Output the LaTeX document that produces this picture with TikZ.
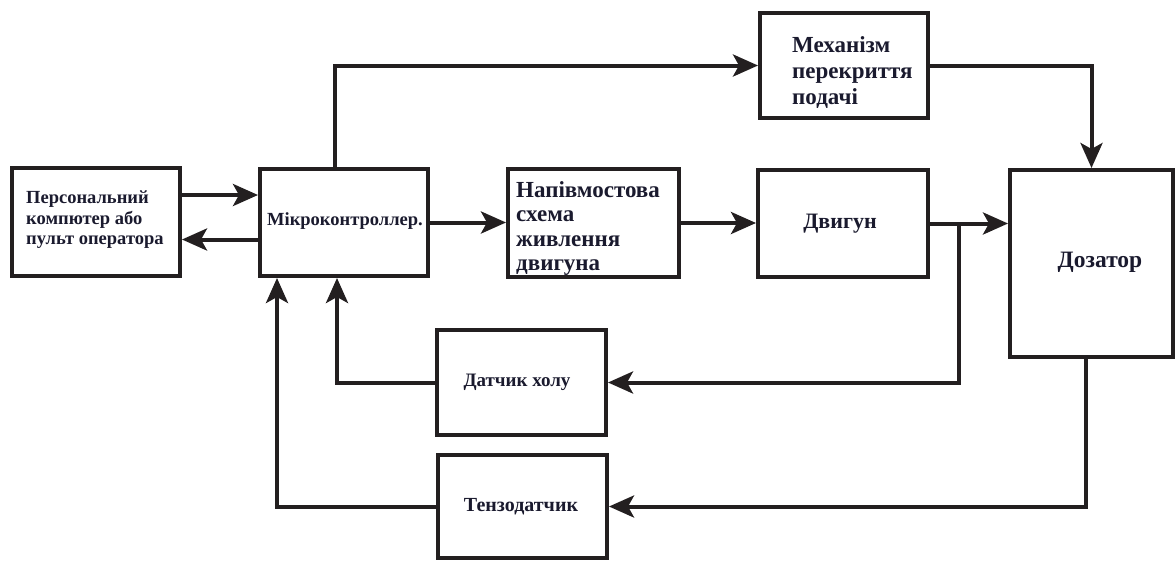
\documentclass[tikz,border=0pt]{standalone}
\usepackage{fontspec}
\setmainfont{Liberation Serif}
\usetikzlibrary{arrows.meta,calc}
\definecolor{ln}{HTML}{231F20}
\definecolor{tx}{HTML}{1A1A2E}
\begin{document}
\begin{tikzpicture}[x=1pt,y=-1pt,
  blk/.style={draw=ln,line width=4pt,fill=white,inner sep=0pt,font=\bfseries,text=tx},
  lbl/.style={inner sep=0pt,font=\bfseries,text=tx,align=left},
  arr/.style={draw=ln,line width=4pt,-{Stealth[length=25pt,width=22pt,inset=6pt]}},
  wire/.style={draw=ln,line width=4pt}]
\useasboundingbox (0,0) rectangle (1175,560);
% boxes
\node[blk,minimum width=168pt,minimum height=108pt] (pc) at (96,222) {};
\node[blk,minimum width=168pt,minimum height=107pt] (mcu) at (344,222.5) {};
\node[blk,minimum width=171pt,minimum height=108pt] (hb) at (593.5,223) {};
\node[blk,minimum width=170pt,minimum height=107pt] (dv) at (843,223.5) {};
\node[blk,minimum width=168pt,minimum height=105pt] (mech) at (844,65.5) {};
\node[blk,minimum width=163pt,minimum height=187pt] (doz) at (1091.5,263.5) {};
\node[blk,minimum width=169pt,minimum height=105pt] (hall) at (521.5,382.5) {};
\node[blk,minimum width=169pt,minimum height=103pt] (tenzo) at (522.5,506.5) {};
% labels
\node[lbl,font=\bfseries\fontsize{18.5}{20.5}\selectfont,anchor=west] (pct) at (26,220) {Персональний\\компютер або\\пульт оператора};
\node[lbl,font=\bfseries\fontsize{18.5}{20}\selectfont] (mcut) at (345,221) {Мікроконтроллер.};
\node[lbl,font=\bfseries\fontsize{23}{24.5}\selectfont,anchor=west] (hbt) at (516,228.5) {Напівмостова\\схема\\живлення\\двигуна};
\node[lbl,font=\bfseries\fontsize{22}{24}\selectfont] (dvt) at (840,224) {Двигун};
\node[lbl,font=\bfseries\fontsize{23}{26}\selectfont,anchor=west] (mecht) at (792,73) {Механізм\\перекриття\\подачі};
\node[lbl,font=\bfseries\fontsize{23.5}{26}\selectfont] (dozt) at (1100,262) {Дозатор};
\node[lbl,font=\bfseries\fontsize{19}{22}\selectfont] (hallt) at (517,382) {Датчик холу};
\node[lbl,font=\bfseries\fontsize{20}{22}\selectfont] (tenzot) at (521,507) {Тензодатчик};
% connectors
\coordinate (br) at (959,222);
\draw[arr] ([yshift=27pt]pc.east) -- ([yshift=27pt]pc.east -| mcu.west);
\draw[arr] ([yshift=-17pt]mcu.west) -- ([yshift=-17pt]mcu.west -| pc.east);
\draw[arr] (mcu.east) -- (mcu.east -| hb.west);
\draw[arr] (hb.east) -- (hb.east -| dv.west);
\draw[arr] (dv.east) -- (dv.east -| doz.west);
\draw[arr] (br) |- (hall.east);
\draw[arr] ([xshift=-9pt]mcu.north) |- (mech.west);
\draw[arr] (mech.east) -| (doz.north);
\draw[arr] ([xshift=-5.5pt]doz.south) |- (tenzo.east);
\draw[arr] (hall.west) -| ([xshift=-7pt]mcu.south);
\draw[arr] (tenzo.west) -| ([xshift=-67pt]mcu.south);
\end{tikzpicture}
\end{document}
